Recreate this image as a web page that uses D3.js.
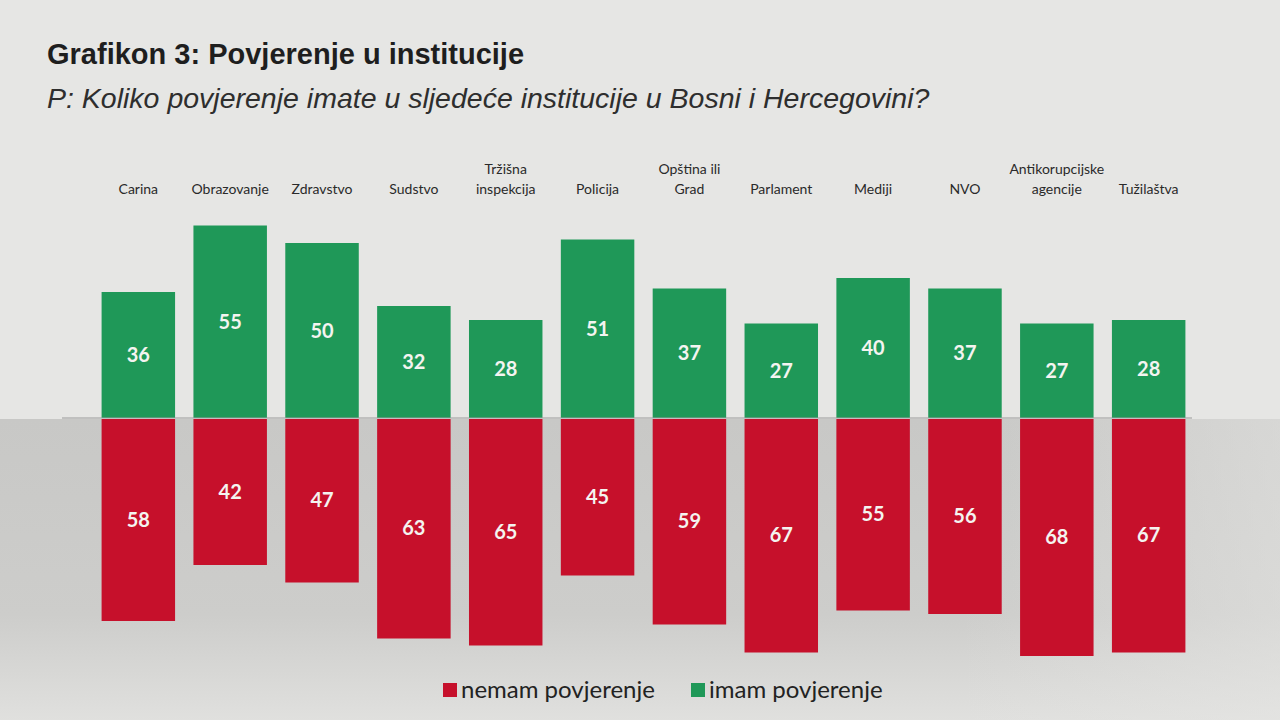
<!DOCTYPE html>
<html>

<head>
  <meta charset="utf-8">
  <style>
    body { margin: 0; background: #e4e4e2; }
    .title { font-family: 'Liberation Sans', Arial, sans-serif; font-weight: bold; font-size: 29px; fill: #1e1e1e; }
    .subtitle { font-family: 'Liberation Sans', Arial, sans-serif; font-style: italic; font-size: 28.5px; fill: #2e2e2e; }
    .cat { font-family: Lato, 'Open Sans', sans-serif; font-size: 14px; fill: #2a2a2a; }
    .val { font-family: Lato, 'Open Sans', sans-serif; font-weight: bold; font-size: 20px; fill: #f4f4f0; }
    .legend { font-family: Lato, 'Open Sans', sans-serif; font-size: 24px; fill: #222; }
  </style>
</head>

<body>
  <div id="chart"></div>
  <script src="https://cdn.jsdelivr.net/npm/d3@7"></script>
  <script>
    // institucije
    var categories = ['Carina', 'Obrazovanje', 'Zdravstvo', 'Sudstvo', 'Tržišna inspekcija', 'Policija',
      'Opština ili Grad', 'Parlament', 'Mediji', 'NVO', 'Antikorupcijske agencije', 'Tužilaštva'];
    // label lines (two-line labels split)
    var catLines = [['Carina'], ['Obrazovanje'], ['Zdravstvo'], ['Sudstvo'], ['Tržišna', 'inspekcija'], ['Policija'],
      ['Opština ili', 'Grad'], ['Parlament'], ['Mediji'], ['NVO'], ['Antikorupcijske', 'agencije'], ['Tužilaštva']];
    var imam = [36, 55, 50, 32, 28, 51, 37, 27, 40, 37, 27, 28];
    var nemam = [58, 42, 47, 63, 65, 45, 59, 67, 55, 56, 68, 67];
    var seriesNames = ['nemam povjerenje', 'imam povjerenje'];

    var width = 1280, height = 720;
    var green = '#1f9858', red = '#c6102b';

    var svg = d3.select('#chart').append('svg')
      .attr('width', width)
      .attr('height', height);

    // paper background, lower part shaded like the photo
    var defs = svg.append('defs');
    var grad = defs.append('linearGradient').attr('id', 'shade').attr('x1', 0).attr('x2', 0).attr('y1', 0).attr('y2', 1);
    grad.append('stop').attr('offset', '0%').attr('stop-color', '#c8c8c6');
    grad.append('stop').attr('offset', '65%').attr('stop-color', '#cdcdcb');
    grad.append('stop').attr('offset', '100%').attr('stop-color', '#e0e0de');
    var gradH = defs.append('linearGradient').attr('id', 'fadeR').attr('x1', 0).attr('x2', 1).attr('y1', 0).attr('y2', 0);
    gradH.append('stop').attr('offset', '0%').attr('stop-color', '#e6e6e4').attr('stop-opacity', 0);
    gradH.append('stop').attr('offset', '75%').attr('stop-color', '#e6e6e4').attr('stop-opacity', 0);
    gradH.append('stop').attr('offset', '100%').attr('stop-color', '#e6e6e4').attr('stop-opacity', 0.5);
    svg.append('rect').attr('width', width).attr('height', height).attr('fill', '#e6e6e4');
    svg.append('rect').attr('y', 419).attr('width', width).attr('height', 301).attr('fill', 'url(#shade)');
    svg.append('rect').attr('y', 419).attr('width', width).attr('height', 301).attr('fill', 'url(#fadeR)');

    var x = d3.scaleBand().domain(categories).range([97, 1190]).paddingInner(0.2).paddingOuter(0.05);
    var y = d3.scaleLinear().domain([-70, 60]).range([663, 208]);

    svg.append('text').attr('class', 'title').attr('x', 47).attr('y', 64).text('Grafikon 3: Povjerenje u institucije');
    svg.append('text').attr('class', 'subtitle').attr('x', 47).attr('y', 108)
      .text('P: Koliko povjerenje imate u sljedeće institucije u Bosni i Hercegovini?');

    // category labels
    var labels = svg.append('g').selectAll('text')
      .data(categories)
      .join('text')
      .attr('class', 'cat')
      .attr('text-anchor', 'middle')
      .attr('x', function (d) { return x(d) + x.bandwidth() / 2; })
      .attr('y', 194);
    labels.each(function (d, i) {
      var lines = catLines[i];
      var t = d3.select(this);
      lines.forEach(function (l, j) {
        t.append('tspan')
          .attr('x', x(d) + x.bandwidth() / 2)
          .attr('dy', j === 0 ? -(lines.length - 1) * 20 : 20)
          .text(l);
      });
    });

    // green bars
    svg.append('g').selectAll('rect')
      .data(imam)
      .join('rect')
      .attr('x', function (d, i) { return x(categories[i]); })
      .attr('y', function (d) { return y(d); })
      .attr('width', x.bandwidth())
      .attr('height', function (d) { return y(0) - y(d); })
      .attr('fill', green);

    // red bars
    svg.append('g').selectAll('rect')
      .data(nemam)
      .join('rect')
      .attr('x', function (d, i) { return x(categories[i]); })
      .attr('y', y(0) + 1)
      .attr('width', x.bandwidth())
      .attr('height', function (d) { return y(-d) - y(0) - 1; })
      .attr('fill', red);

    // zero line
    svg.append('line')
      .attr('x1', 62).attr('x2', 1192)
      .attr('y1', y(0)).attr('y2', y(0))
      .attr('stroke', '#9a9a9a').attr('stroke-width', 1);

    svg.append('g').selectAll('text')
      .data(imam)
      .join('text')
      .attr('class', 'val')
      .attr('text-anchor', 'middle')
      .attr('x', function (d, i) { return x(categories[i]) + x.bandwidth() / 2; })
      .attr('y', function (d) { return (y(d) + y(0)) / 2 + 7; })
      .text(function (d) { return d; });

    svg.append('g').selectAll('text')
      .data(nemam)
      .join('text')
      .attr('class', 'val')
      .attr('text-anchor', 'middle')
      .attr('x', function (d, i) { return x(categories[i]) + x.bandwidth() / 2; })
      .attr('y', function (d) { return (y(-d) + y(0)) / 2 + 7; })
      .text(function (d) { return d; });

    // legend
    var legendX = [443, 691];
    var lg = svg.append('g').selectAll('g')
      .data(seriesNames)
      .join('g')
      .attr('transform', function (d, i) { return 'translate(' + legendX[i] + ',680)'; });
    lg.append('rect').attr('width', 14).attr('height', 14).attr('y', 3)
      .attr('fill', function (d, i) { return i === 0 ? red : green; });
    lg.append('text').attr('class', 'legend').attr('x', 18).attr('y', 18).text(function (d) { return d; });
  </script>
</body>

</html>
